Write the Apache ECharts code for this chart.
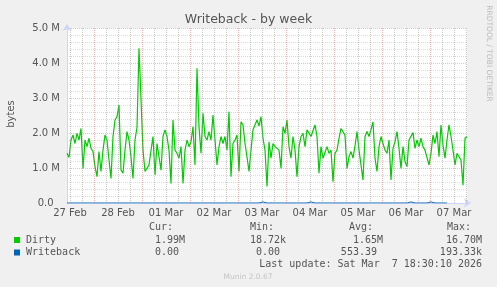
<!DOCTYPE html>
<html><head><meta charset="utf-8">
<script src="https://cdn.jsdelivr.net/npm/echarts@6/dist/echarts.min.js"></script>
<style>html,body{margin:0;padding:0;background:#F0F0F0;}#c{width:497px;height:287px;}</style>
</head><body><div id="c"></div>
<script>
// time axis in hours since 27 Feb 00:00; samples are hourly
const START_HOUR = 10.5;
const STEP_HOURS = 1;

// Dirty (millions of bytes), hourly samples
const dirty = [
 1.42,1.30,1.80,1.94,1.70,1.99,1.80,2.13,0.99,1.80,
 1.61,1.85,1.56,1.47,1.04,0.75,1.47,0.90,1.51,1.94,
 1.80,1.23,0.70,1.90,2.37,2.47,2.80,0.94,0.85,1.51,
 2.04,1.80,1.32,0.70,1.80,2.16,4.42,4.40,1.51,0.90,
 0.85,1.09,1.13,1.90,0.80,1.70,1.70,0.94,1.90,2.09,
 1.90,1.51,0.56,2.37,1.51,1.42,1.28,1.61,0.56,1.51,
 1.80,1.61,1.75,2.18,1.09,3.85,2.18,1.42,2.56,1.90,
 1.80,2.04,1.80,2.51,1.80,1.09,1.61,1.90,1.70,1.90,
 1.51,2.61,0.75,1.70,1.80,1.94,0.90,2.32,2.23,1.70,
 1.32,0.90,1.51,2.09,2.10,2.37,2.20,2.47,1.85,1.51,
 0.47,1.75,1.28,1.70,1.61,1.61,1.51,0.99,2.18,1.99,
 2.37,1.61,1.28,1.90,1.51,0.75,1.61,1.90,1.99,1.61,
 2.09,2.04,1.90,1.90,2.23,1.90,0.85,1.61,1.28,1.23,
 1.61,1.42,1.51,0.61,1.42,1.51,1.85,2.13,2.09,1.94,
 0.99,1.32,1.47,1.28,1.63,2.04,1.51,1.51,0.66,1.90,
 2.04,1.90,2.10,2.32,1.28,0.90,1.61,1.90,1.70,1.51,
 1.42,1.80,0.66,1.56,1.75,2.04,1.56,0.99,1.61,1.18,
 1.04,1.80,1.77,2.01,1.56,1.80,1.61,1.85,1.61,1.51,
 1.47,1.09,1.42,1.94,1.70,2.04,1.32,2.23,1.66,1.28,
 1.80,2.23,1.90,1.51,1.09,1.42,1.42,1.23,0.51,1.85,
 1.90
];

// Writeback (millions of bytes), hourly samples
const writeback = [
 0,0,0,0,0,0,0,0,0,0, 0,0,0,0,0,0,0,0,0,0,
 0,0,0,0,0,0,0,0,0,0, 0,0,0,0,0,0,0,0,0,0,
 0,0,0,0,0,0,0,0,0,0, 0,0,0,0,0,0,0,0,0,0,
 0,0,0,0,0,0,0,0,0,0, 0,0,0,0,0,0,0,0,0,0,
 0,0,0,0,0,0,0,0,0,0, 0,0,0,0,0,0,0,0,0.03,0,
 0,0,0,0,0,0,0,0,0,0, 0,0,0,0,0,0,0,0,0,0,
 0,0,0.03,0,0,0,0,0,0,0, 0,0,0,0,0,0,0,0,0,0,
 0,0,0,0,0,0,0,0,0,0, 0,0,0,0,0,0,0,0,0,0,
 0,0,0,0,0,0,0,0,0,0, 0,0,0.03,0,0,0,0,0,0,0,
 0,0,0.03,0,0,0,0,0,0,0, 0
];

const dayLabels = ['27 Feb','28 Feb','01 Mar','02 Mar','03 Mar','04 Mar','05 Mar','06 Mar','07 Mar'];
const dayLabelHours = [12,36,60,84,108,132,156,180,204];
const midnightHours = [24,48,72,96,120,144,168,192];
const sixHourHours = [12,18,30,36,42,54,60,66,78,84,90,102,108,114,126,132,138,150,156,162,174,180,186,198,204,210];

const legendNames = ['Dirty','Writeback'];
const legendColors = ['#00CC00','#0066B3'];
const legendHeaders = ['Cur:','Min:','Avg:','Max:'];
const curVals = ['1.99M','0.00 '];
const minVals = ['18.72k','0.00 '];
const avgVals = ['1.65M','553.39 '];
const maxVals = ['16.70M','193.33k'];
const lastUpdate = 'Last update: Sat Mar  7 18:30:10 2026';

const SANS = 'DejaVu Sans';
const MONO = 'DejaVu Sans Mono';
const FG = '#555555';
const GRID_MINOR = 'rgba(143,143,143,0.32)';
const GRID_MAJOR = 'rgba(222,80,80,0.38)';
const VGRID_MINOR = 'rgba(143,143,143,0.5)';
const VGRID_MAJOR = 'rgba(222,80,80,0.45)';

const chart = echarts.init(document.getElementById('c'), null, {renderer:'canvas', width:497, height:287});

const gridLineData = [];
sixHourHours.forEach(h => gridLineData.push({xAxis:h, lineStyle:{color:VGRID_MINOR, type:[1,1], width:1}}));
midnightHours.forEach(h => gridLineData.push({xAxis:h, lineStyle:{color:VGRID_MAJOR, type:[1,1], width:1}}));

function txt(text, x, y, opts) {
  opts = opts || {};
  return {
    type:'text', x:x, y:y, rotation: opts.rotation || 0, silent:true, z:10,
    style:{text:text, x:0, y:0, fill: opts.fill || FG,
      font: (opts.size || 10) + 'px "' + (opts.family || MONO) + '"',
      fontSize: opts.size || 10, fontFamily: opts.family || MONO,
      align: opts.align || 'left', textAlign: opts.align || 'left',
      verticalAlign:'middle', textVerticalAlign:'middle'}
  };
}

const graphics = [];
graphics.push(txt('Writeback - by week', 248.5, 19.5, {family:SANS, size:12.5, align:'center'}));
graphics.push(txt('bytes', 11, 114, {family:SANS, size:10, align:'center', rotation:Math.PI/2}));
graphics.push(txt('RRDTOOL / TOBI OETIKER', 488.5, 53.5, {family:SANS, size:7.5, align:'center', rotation:-Math.PI/2, fill:'#bbbbbb'}));
graphics.push(txt('Munin 2.0.67', 248, 277, {family:SANS, size:7.5, align:'center', fill:'#c4c4c4'}));
const headerX = [149, 250, 349, 447];
legendHeaders.forEach((h,i) => graphics.push(txt(h, headerX[i], 227)));
const rowY = [240, 252.5];
const colRight = [185, 286, 383, 482];
legendNames.forEach((n,i) => {
  graphics.push({type:'rect', silent:true, z:10, shape:{x:14, y:rowY[i]-3, width:6, height:6}, style:{fill:legendColors[i]}});
  graphics.push(txt(n, 26, rowY[i]));
  [curVals, minVals, avgVals, maxVals].forEach((arr,j) => graphics.push(txt(arr[i], colRight[j], rowY[i], {align:'right'})));
});
graphics.push(txt(lastUpdate, 482, 264.5, {align:'right'}));

chart.setOption({
  animation:false,
  backgroundColor:'#F0F0F0',
  grid:{left:67, right:30, top:28, bottom:84, show:true, backgroundColor:'#FFFFFF', borderWidth:0},
  xAxis:{
    type:'value', min:START_HOUR, max:START_HOUR + (dirty.length-1)*STEP_HOURS,
    axisLine:{show:true, onZero:false, lineStyle:{color:'#CFD6F8', width:1}, symbol:['none','arrow'], symbolSize:[7,7], symbolOffset:[0,4]},
    axisTick:{show:false},
    splitLine:{show:false},
    axisLabel:{customValues:dayLabelHours, formatter:v => dayLabels[dayLabelHours.indexOf(Math.round(v))] || '',
      color:FG, fontFamily:SANS, fontSize:10, margin:5}
  },
  yAxis:{
    type:'value', min:0, max:5, interval:1,
    axisLine:{show:true, lineStyle:{color:'#CFD6F8', width:1}, symbol:['none','arrow'], symbolSize:[7,7], symbolOffset:[0,4]},
    axisTick:{show:false},
    axisLabel:{formatter:v => v === 0 ? '0.0\u2007' : v.toFixed(1) + ' M', color:FG, fontFamily:SANS, fontSize:10, margin:7},
    splitLine:{show:true, lineStyle:{color:GRID_MAJOR, type:[1,1], width:1}},
    minorTick:{show:false, splitNumber:5},
    minorSplitLine:{show:true, lineStyle:{color:GRID_MINOR, type:[1,1], width:1}}
  },
  series:[
    {name:'grid', type:'line', data:[], z:1, silent:true,
      markLine:{silent:true, symbol:['none','none'], label:{show:false}, animation:false, data:gridLineData}},
    {name:'Dirty', type:'line', data:dirty.map((v,i) => [START_HOUR + i*STEP_HOURS, v]),
      symbol:'none', showSymbol:false, lineStyle:{color:legendColors[0], width:1.2}, itemStyle:{color:legendColors[0]}, z:3},
    {name:'Writeback', type:'line', data:writeback.map((v,i) => [START_HOUR + i*STEP_HOURS, v]),
      symbol:'none', showSymbol:false, lineStyle:{color:legendColors[1], width:1}, itemStyle:{color:legendColors[1]}, z:4}
  ],
  graphic:graphics
});
</script></body></html>
